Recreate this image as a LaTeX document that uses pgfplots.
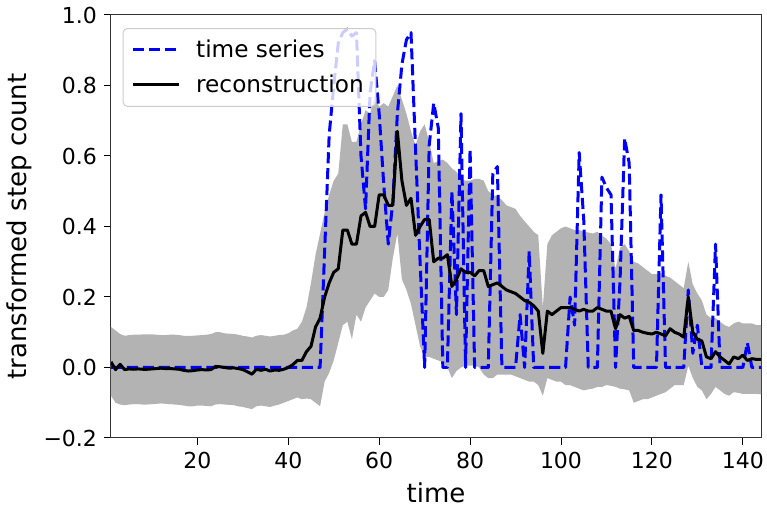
\documentclass[border=0pt]{standalone}
\usepackage{fontspec}
\setmainfont{DejaVu Sans}
\usepackage{pgfplots}
\usepackage{pgfplotstable}
\pgfplotsset{compat=1.18}
\usepgfplotslibrary{fillbetween}
\definecolor{bandgray}{HTML}{B3B3B3}
\definecolor{legframe}{HTML}{CCCCCC}
\definecolor{tsblue}{HTML}{0000FF}

% t, reconstruction mean, band upper, band lower, time series
\pgfplotstableread{
t m u l s
1 0.016 0.115 -0.080 0
2 -0.006 0.105 -0.100 0
3 0.009 0.095 -0.105 0
4 -0.006 0.090 -0.107 0
5 -0.004 0.092 -0.105 0
6 -0.005 0.093 -0.104 0
7 -0.004 0.093 -0.104 0
8 -0.005 0.094 -0.105 0
9 -0.005 0.094 -0.105 0
10 -0.004 0.094 -0.104 0
11 -0.003 0.093 -0.103 0
12 -0.002 0.092 -0.102 0
13 -0.003 0.092 -0.103 0
14 -0.003 0.093 -0.104 0
15 -0.004 0.093 -0.105 0
16 -0.005 0.092 -0.106 0
17 -0.008 0.090 -0.108 0
18 -0.010 0.090 -0.110 0
19 -0.009 0.090 -0.110 0
20 -0.007 0.091 -0.108 0
21 -0.006 0.092 -0.108 0
22 -0.007 0.093 -0.109 0
23 -0.006 0.095 -0.110 0
24 0.003 0.100 -0.105 0
25 0.002 0.100 -0.104 0
26 0.000 0.097 -0.105 0
27 -0.002 0.096 -0.106 0
28 -0.001 0.095 -0.107 0
29 -0.003 0.093 -0.110 0
30 -0.006 0.090 -0.112 0
31 -0.012 0.088 -0.115 0
32 -0.019 0.085 -0.118 0
33 -0.005 0.090 -0.110 0
34 -0.008 0.092 -0.108 0
35 -0.005 0.090 -0.110 0
36 -0.010 0.088 -0.112 0
37 -0.007 0.090 -0.108 0
38 -0.008 0.092 -0.105 0
39 -0.005 0.093 -0.100 0
40 0.000 0.097 -0.095 0
41 0.008 0.105 -0.090 0
42 0.020 0.110 -0.085 0
43 0.020 0.130 -0.090 0
44 0.045 0.170 -0.088 0
45 0.060 0.240 -0.090 0
46 0.115 0.320 -0.100 0
47 0.140 0.380 -0.110 0
48 0.200 0.440 -0.040 0.33
49 0.240 0.490 -0.015 0.66
50 0.270 0.530 0.020 0.80
51 0.280 0.550 0.070 0.92
52 0.390 0.690 0.120 0.95
53 0.390 0.690 0.130 0.96
54 0.350 0.640 0.080 0.94
55 0.350 0.640 0.150 0.95
56 0.430 0.690 0.130 0.60
57 0.440 0.730 0.170 0.45
58 0.400 0.720 0.190 0.78
59 0.400 0.770 0.210 0.87
60 0.490 0.740 0.200 0.72
61 0.490 0.750 0.200 0.52
62 0.460 0.740 0.220 0.35
63 0.460 0.770 0.310 0.47
64 0.670 0.800 0.380 0.72
65 0.530 0.760 0.250 0.86
66 0.460 0.720 0.220 0.93
67 0.480 0.670 0.180 0.95
68 0.375 0.630 0.120 0.62
69 0.400 0.670 0.060 0.30
70 0.420 0.690 0.030 0
71 0.420 0.640 0.030 0.63
72 0.300 0.580 0.025 0.75
73 0.310 0.585 0.020 0.68
74 0.310 0.590 0.015 0
75 0.320 0.580 0.000 0
76 0.230 0.565 -0.030 0.50
77 0.250 0.555 -0.010 0.15
78 0.280 0.535 0.000 0.72
79 0.270 0.530 0.005 0
80 0.270 0.530 0.005 0.62
81 0.260 0.535 0.005 0
82 0.275 0.535 0.000 0
83 0.275 0.530 -0.020 0
84 0.230 0.500 -0.030 0
85 0.235 0.490 -0.030 0.55
86 0.240 0.485 -0.020 0.57
87 0.230 0.475 -0.020 0
88 0.220 0.460 -0.020 0
89 0.215 0.455 -0.020 0
90 0.210 0.450 -0.025 0
91 0.200 0.430 -0.030 0.15
92 0.190 0.415 -0.035 0
93 0.185 0.400 -0.040 0.33
94 0.175 0.385 -0.040 0
95 0.160 0.375 -0.050 0
96 0.040 0.170 -0.080 0
97 0.160 0.350 -0.030 0
98 0.150 0.375 -0.035 0
99 0.160 0.385 -0.040 0
100 0.170 0.395 -0.040 0
101 0.170 0.400 -0.050 0
102 0.170 0.395 -0.050 0.20
103 0.165 0.390 -0.055 0.12
104 0.160 0.390 -0.060 0.61
105 0.165 0.385 -0.065 0.42
106 0.160 0.383 -0.062 0
107 0.160 0.380 -0.060 0
108 0.170 0.385 -0.055 0
109 0.165 0.375 -0.055 0.54
110 0.160 0.365 -0.050 0.51
111 0.160 0.350 -0.052 0.49
112 0.110 0.280 -0.055 0
113 0.150 0.340 -0.060 0.25
114 0.140 0.350 -0.062 0.65
115 0.145 0.330 -0.065 0.58
116 0.105 0.300 -0.100 0
117 0.105 0.295 -0.095 0
118 0.100 0.285 -0.090 0
119 0.097 0.275 -0.090 0
120 0.095 0.265 -0.085 0
121 0.100 0.265 -0.080 0
122 0.095 0.268 -0.075 0.49
123 0.090 0.260 -0.070 0
124 0.110 0.255 -0.060 0
125 0.100 0.245 -0.050 0
126 0.095 0.235 -0.050 0
127 0.086 0.225 -0.050 0
128 0.200 0.300 0.005 0.22
129 0.100 0.235 -0.030 0.04
130 0.080 0.210 -0.055 0.12
131 0.075 0.190 -0.065 0
132 0.030 0.150 -0.090 0
133 0.025 0.140 -0.075 0
134 0.045 0.140 -0.055 0.35
135 0.030 0.130 -0.065 0
136 0.020 0.120 -0.075 0
137 0.010 0.115 -0.080 0
138 0.030 0.125 -0.070 0
139 0.025 0.130 -0.072 0
140 0.035 0.125 -0.075 0
141 0.020 0.125 -0.075 0.07
142 0.025 0.125 -0.075 0
143 0.023 0.120 -0.075 0
144 0.023 0.120 -0.076 0
}\recon

\begin{document}
\begin{tikzpicture}
\begin{axis}[
  at={(0pt,0pt)}, anchor=south west,
  scale only axis, width=325pt, height=211.5pt,
  xmin=1, xmax=144, ymin=-0.2, ymax=1.0,
  xtick={20,40,...,140},
  xticklabels={20,40,60,80,100,120,140},
  ytick={-0.2,0,0.2,0.4,0.6,0.8,1.0},
  yticklabels={−0.2,0.0,0.2,0.4,0.6,0.8,1.0},
  tick pos=left, tick align=outside, major tick length=3.5pt,
  every tick/.style={black, line width=0.5pt},
  axis line style={black!80, line width=0.5pt},
  tick label style={font=\fontsize{11}{13}\selectfont},
  label style={font=\fontsize{13}{15}\selectfont},
  xlabel={time},
  ylabel={transformed step count},
  ylabel style={yshift=-1pt},
  legend style={at={(0.018,0.969)}, anchor=north west,
    draw=legframe, line width=0.5pt, rounded corners=2pt,
    fill=white, fill opacity=0.8, text opacity=1,
    font=\fontsize{11.6}{13}\selectfont,
    inner xsep=4pt, inner ysep=3.5pt, row sep=3.2pt,
    cells={anchor=west}},
  legend image code/.code={\draw[#1] (0pt,0pt) -- (23pt,0pt);
    \path (29pt,0pt);},
]
\addplot[name path=U, draw=none, forget plot] table[x=t,y=u]{\recon};
\addplot[name path=L, draw=none, forget plot] table[x=t,y=l]{\recon};
\addplot[fill=bandgray, draw=none, forget plot] fill between[of=U and L];
\addplot[tsblue, line width=1.5pt, line join=round,
  dash pattern=on 5.55pt off 2.4pt] table[x=t,y=s]{\recon};
\addlegendentry{time series}
\addplot[black, line width=1.5pt, line join=round] table[x=t,y=m]{\recon};
\addlegendentry{reconstruction}
\end{axis}
\pgfresetboundingbox
\path[use as bounding box] (-55.5pt,-35.5pt) rectangle (328pt,219pt);
\end{tikzpicture}
\end{document}
